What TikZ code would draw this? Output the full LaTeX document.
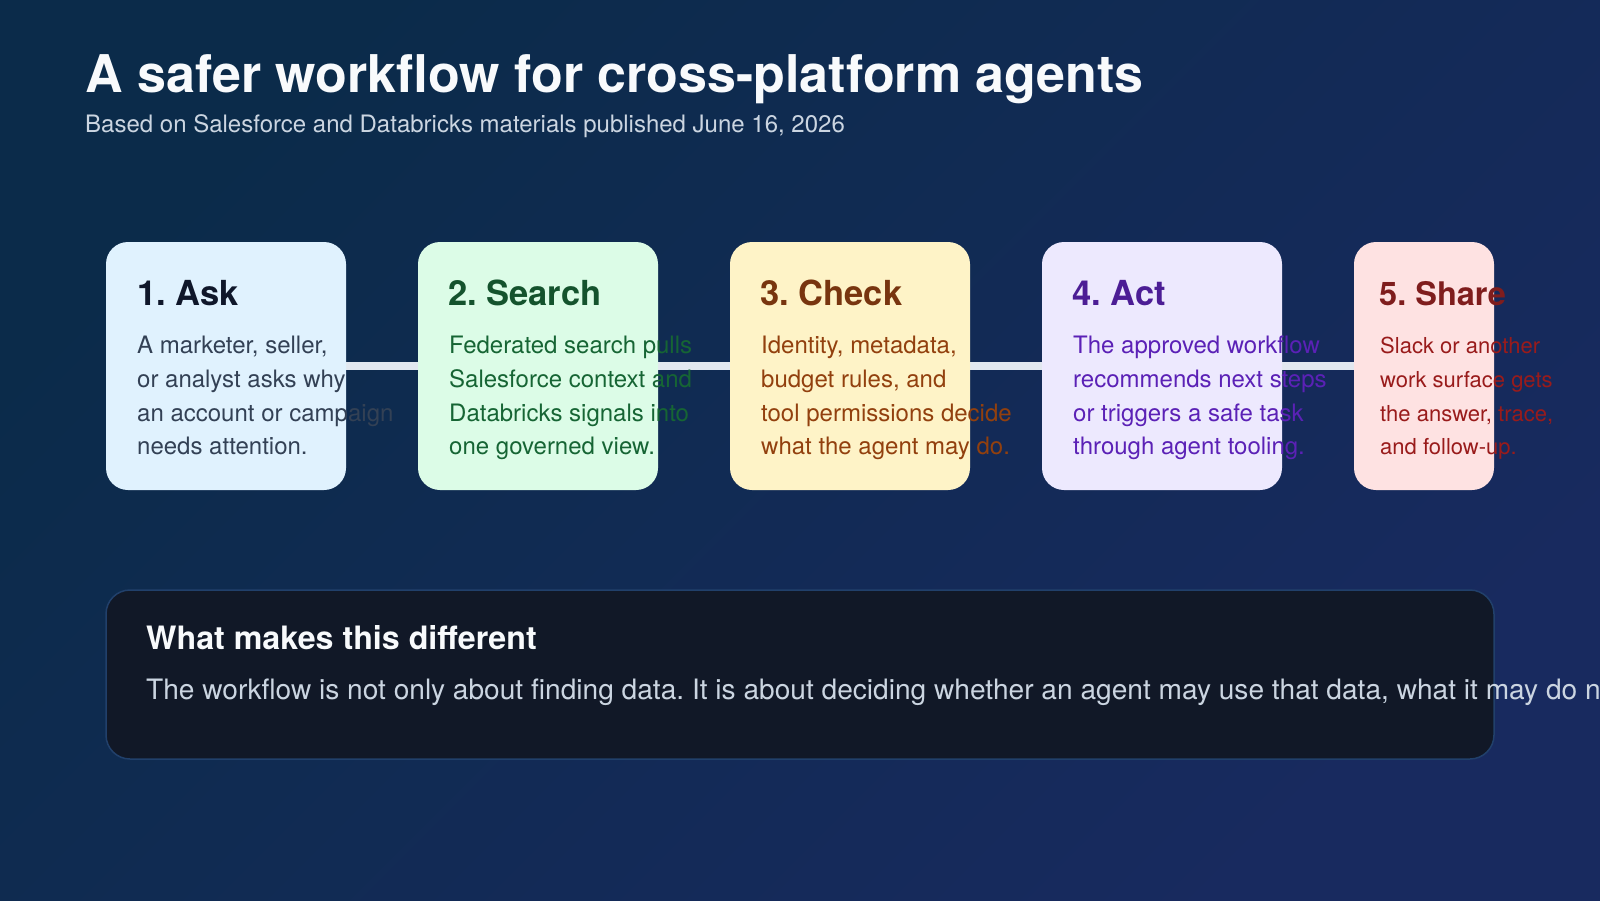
\documentclass[tikz,border=0pt]{standalone}
\usepackage{fontspec}
\setmainfont{TeX Gyre Heros}
\frenchspacing
\pgfdeclarelayer{bg}
\pgfdeclarelayer{links}
\pgfsetlayers{bg,links,main}
\definecolor{bgA}{HTML}{0B2B4A}
\definecolor{bgB}{HTML}{182A5F}
\definecolor{linkc}{HTML}{E2E8F0}
\definecolor{titlec}{HTML}{F8FAFC}
\definecolor{subc}{HTML}{CBD5E1}
\definecolor{fA}{HTML}{E0F2FE}\definecolor{hA}{HTML}{0F172A}\definecolor{bA}{HTML}{334155}
\definecolor{fB}{HTML}{DCFCE7}\definecolor{hB}{HTML}{14532D}\definecolor{bB}{HTML}{166534}
\definecolor{fC}{HTML}{FEF3C7}\definecolor{hC}{HTML}{78350F}\definecolor{bC}{HTML}{92400E}
\definecolor{fD}{HTML}{EDE9FE}\definecolor{hD}{HTML}{4C1D95}\definecolor{bD}{HTML}{5B21B6}
\definecolor{fE}{HTML}{FEE2E2}\definecolor{hE}{HTML}{7F1D1D}\definecolor{bE}{HTML}{991B1B}
\definecolor{panelf}{HTML}{111827}
\definecolor{paneld}{HTML}{21406B}
\tikzset{
  card/.style={rounded corners=22pt, minimum height=248pt, inner sep=0pt, draw=none},
  link/.style={draw=linkc, line width=8.5pt},
  head/.style={anchor=base west, inner sep=0pt, font=\frenchspacing\bfseries\fontsize{34.5}{40}\selectfont},
  body/.style={anchor=base west, inner sep=0pt, align=left, font=\frenchspacing\fontsize{24}{33.8}\selectfont},
  headsm/.style={head, font=\frenchspacing\bfseries\fontsize{32.5}{38}\selectfont},
  bodysm/.style={body, font=\frenchspacing\fontsize{22}{33.8}\selectfont},
}
\begin{document}
\begin{tikzpicture}[x=1pt,y=-1pt]
\clip (0,0) rectangle (1600,900);
\begin{pgfonlayer}{bg}
\shade[top color=bgA, bottom color=bgB, shading angle=45] (0,0) rectangle (1600,900);
\end{pgfonlayer}

\node[anchor=base west, inner sep=0pt, text=titlec, font=\bfseries\fontsize{52}{60}\selectfont] (title) at (85,92) {A safer workflow for cross-platform agents};
\node[anchor=base west, inner sep=0pt, text=subc, font=\fontsize{24}{30}\selectfont] (subtitle) at (85,132) {Based on Salesforce and Databricks materials published June 16, 2026};

% cards
\node[card, fill=fA, minimum width=240pt] (c1) at (226,366) {};
\node[card, fill=fB, minimum width=240pt] (c2) at (538,366) {};
\node[card, fill=fC, minimum width=240pt] (c3) at (850,366) {};
\node[card, fill=fD, minimum width=240pt] (c4) at (1162,366) {};
\node[card, fill=fE, minimum width=140pt] (c5) at (1424,366) {};

\begin{pgfonlayer}{links}
\draw[link] (c1) -- (c2);
\draw[link] (c2) -- (c3);
\draw[link] (c3) -- (c4);
\draw[link] (c4) -- (c5);
\end{pgfonlayer}

% body nodes anchored at the baseline of their last line
\node[head, text=hA] (h1) at (137,305) {1. Ask};
\node[body, text=bA] (t1) at (137,454.9) {A marketer, seller,\\or analyst asks why\\an account or campaign\\needs attention.};

\node[head, text=hB] (h2) at (448,305) {2. Search};
\node[body, text=bB] (t2) at (449,454.9) {Federated search pulls\\Salesforce context and\\Databricks signals into\\one governed view.};

\node[head, text=hC] (h3) at (760,305) {3. Check};
\node[body, text=bC] (t3) at (761,454.9) {Identity, metadata,\\budget rules, and\\tool permissions decide\\what the agent may do.};

\node[head, text=hD] (h4) at (1072,305) {4. Act};
\node[body, text=bD] (t4) at (1073,454.9) {The approved workflow\\recommends next steps\\or triggers a safe task\\through agent tooling.};

\node[headsm, text=hE] (h5) at (1379,305) {5. Share};
\node[bodysm, text=bE] (t5) at (1380,454.9) {Slack or another\\work surface gets\\the answer, trace,\\and follow-up.};

% bottom panel
\node[rounded corners=24pt, fill=panelf, draw=paneld, line width=1.5pt, minimum width=1388pt, minimum height=169pt, inner sep=0pt] (panel) at (800,674.5) {};
\node[anchor=base west, inner sep=0pt, text=titlec, font=\bfseries\fontsize{32.2}{38}\selectfont] (ph) at (146,649.5) {What makes this different};
\node[anchor=base west, inner sep=0pt, text=subc, font=\frenchspacing\fontsize{28.1}{34}\selectfont] (pt) at (146,699) {The workflow is not only about finding data. It is about deciding whether an agent may use that data, what it may do next};
\end{tikzpicture}
\end{document}
